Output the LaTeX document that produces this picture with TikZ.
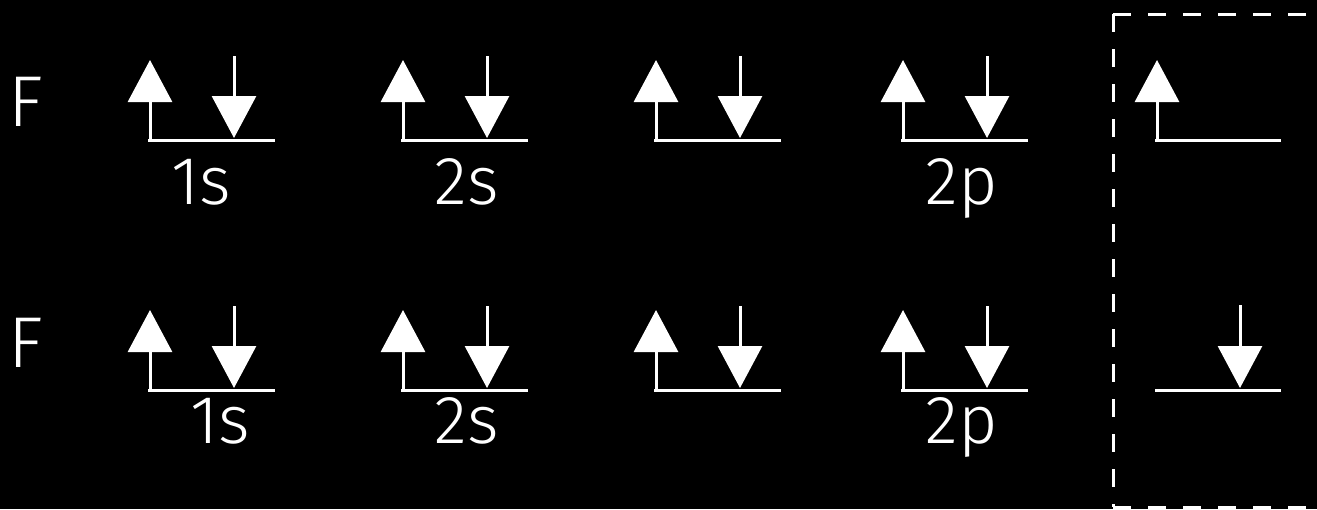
\documentclass[tikz,border=0pt]{standalone}
\usepackage{fontspec}
\setmainfont{Fira Sans Light}
\usetikzlibrary{arrows.meta}

\tikzset{
  level/.style={draw=white, line width=1.5pt},
  spin/.style={draw=white, line width=1.5pt, -{Triangle[width=22pt,length=21pt]}},
  frame/.style={draw=white, line width=1.5pt, dash pattern=on 8.75pt off 8.75pt},
  lbl/.style={text=white, font=\fontsize{34}{34}\selectfont, inner sep=0pt, anchor=base},
  atom/.style={text=white, font=\fontsize{36}{36}\selectfont, inner sep=0pt, anchor=base west},
}

\begin{document}
\begin{tikzpicture}[x=0.5pt, y=-0.5pt]
  % page and background
  \fill[black] (0,0) rectangle (1317,509);
  \useasboundingbox (0,0) rectangle (1317,509);

  % atom symbols
  \node[atom] (F1) at (8,126) {F};
  \node[atom] (F2) at (8,367) {F};

  % filled orbitals: level line with spin-up and spin-down electrons
  \foreach \g/\x in {a/150,b/403,c/656,d/903}{
    \foreach \r/\y in {1/140,2/390}{
      \coordinate (\g\r-l) at (\x-2,\y);
      \coordinate (\g\r-r) at (\x+125,\y);
      \coordinate (\g\r-u0) at (\x,\y);
      \coordinate (\g\r-u1) at (\x,\y-80);
      \coordinate (\g\r-d0) at (\x+84,\y-84);
      \coordinate (\g\r-d1) at (\x+84,\y-2);
      \draw[level] (\g\r-l) -- (\g\r-r);
      \draw[spin] (\g\r-u0) -- (\g\r-u1);
      \draw[spin] (\g\r-d0) -- (\g\r-d1);
    }
  }

  % half-filled orbitals inside the dashed frame
  \coordinate (e1-l) at (1155,140);
  \coordinate (e1-r) at (1281,140);
  \coordinate (e1-u0) at (1157,140);
  \coordinate (e1-u1) at (1157,60);
  \draw[level] (e1-l) -- (e1-r);
  \draw[spin] (e1-u0) -- (e1-u1);

  \coordinate (e2-l) at (1155,390);
  \coordinate (e2-r) at (1281,390);
  \coordinate (e2-d0) at (1240,305);
  \coordinate (e2-d1) at (1240,388);
  \draw[level] (e2-l) -- (e2-r);
  \draw[spin] (e2-d0) -- (e2-d1);

  % dashed frame
  \coordinate (box-tl) at (1113,14);
  \coordinate (box-tr) at (1330,14);
  \coordinate (box-bl) at (1113,507);
  \coordinate (box-br) at (1330,507);
  \draw[frame] (box-tl) -- (box-tr);
  \draw[frame] (box-tl) -- (box-bl);
  \draw[frame] (box-bl) -- (box-br);

  % orbital labels
  \node[lbl] (s1a) at (201,204) {1s};
  \node[lbl] (s2a) at (467,204) {2s};
  \node[lbl] (p2a) at (962,204) {2p};
  \node[lbl] (s1b) at (220,443) {1s};
  \node[lbl] (s2b) at (467,443) {2s};
  \node[lbl] (p2b) at (962,443) {2p};
\end{tikzpicture}
\end{document}
